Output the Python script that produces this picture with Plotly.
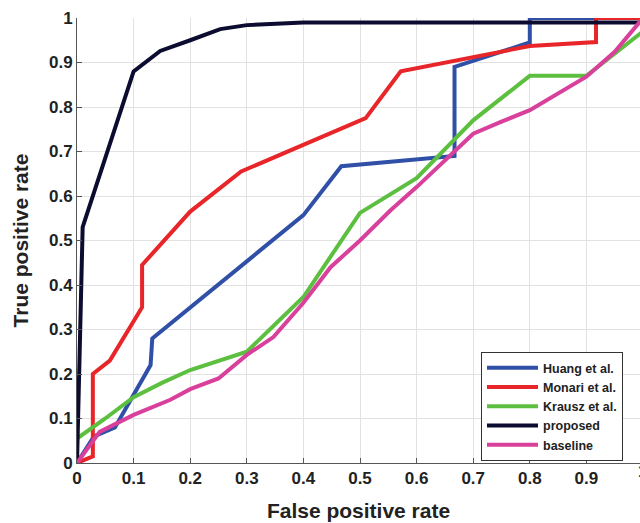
import plotly.graph_objects as go

names = ["Huang et al.", "Monari et al.", "Krausz et al.", "proposed", "baseline"]
colors = ["#3050a8", "#e8262a", "#5cbf3f", "#0c0c30", "#d8409c"]

huang_x = [0, 0.03, 0.067, 0.13, 0.133, 0.40, 0.467, 0.667, 0.667, 0.80, 0.80, 1.0]
huang_y = [0, 0.06, 0.08, 0.22, 0.28, 0.557, 0.667, 0.69, 0.89, 0.945, 1.0, 1.0]

monari_x = [0, 0.028, 0.028, 0.058, 0.115, 0.115, 0.2, 0.29, 0.51, 0.572, 0.80, 0.917, 0.917, 1.0]
monari_y = [0, 0.015, 0.2, 0.23, 0.35, 0.445, 0.565, 0.655, 0.775, 0.88, 0.937, 0.946, 1.0, 1.0]

krausz_x = [0, 0.05, 0.1, 0.15, 0.2, 0.3, 0.4, 0.5, 0.6, 0.7, 0.8, 0.9, 1.0]
krausz_y = [0.055, 0.1, 0.148, 0.18, 0.209, 0.25, 0.373, 0.562, 0.64, 0.77, 0.87, 0.87, 0.97]

proposed_x = [0, 0.01, 0.1, 0.147, 0.2, 0.253, 0.3, 0.4, 0.5, 1.0]
proposed_y = [0, 0.53, 0.88, 0.926, 0.95, 0.975, 0.984, 0.99, 0.99, 0.99]

baseline_x = [0, 0.04, 0.1, 0.165, 0.2, 0.25, 0.3, 0.347, 0.4, 0.448, 0.5, 0.554, 0.6, 0.7, 0.75, 0.8, 0.9, 0.95, 1.0]
baseline_y = [0, 0.07, 0.108, 0.142, 0.166, 0.19, 0.243, 0.283, 0.36, 0.44, 0.5, 0.568, 0.62, 0.74, 0.767, 0.793, 0.868, 0.924, 1.0]

xticks = [0, 0.1, 0.2, 0.3, 0.4, 0.5, 0.6, 0.7, 0.8, 0.9]
xticklabels = ["0", "0.1", "0.2", "0.3", "0.4", "0.5", "0.6", "0.7", "0.8", "0.9"]
yticks = [0, 0.1, 0.2, 0.3, 0.4, 0.5, 0.6, 0.7, 0.8, 0.9, 1.0]
yticklabels = ["0", "0.1", "0.2", "0.3", "0.4", "0.5", "0.6", "0.7", "0.8", "0.9", "1"]

series = [(huang_x, huang_y), (monari_x, monari_y), (krausz_x, krausz_y),
          (proposed_x, proposed_y), (baseline_x, baseline_y)]

fig = go.Figure()
for (xs, ys), n, c in zip(series, names, colors):
    fig.add_trace(go.Scatter(x=xs, y=ys, mode="lines", name=n,
                             line=dict(color=c, width=4)))

W, H = 640, 523
L, R, T, B = 77, 0, 18, 60
pw = W - L - R
x_one_px = 643  # pixel where x=1 lies
xmax = pw / (x_one_px - L)

font = "Liberation Sans, Arial, sans-serif"
tickfont = dict(family=font, size=17, weight="bold", color="#222222")
titlefont = dict(family=font, size=21, weight="bold", color="#222222")
fig.update_layout(
    width=W, height=H,
    margin=dict(l=L, r=R, t=T, b=B, pad=0),
    paper_bgcolor="white", plot_bgcolor="white",
    font=dict(family=font, color="#222222"),
    showlegend=True,
    legend=dict(x=(481 - L) / pw, y=(463 - 352) / 445, xanchor="left", yanchor="top",
                bgcolor="white", bordercolor="#333333", borderwidth=1,
                font=dict(family=font, size=12.5, weight="bold", color="#222222"),
                tracegroupgap=0, itemwidth=51),
    xaxis=dict(range=[0, xmax], tickmode="array", tickvals=xticks, ticktext=xticklabels,
               showgrid=True, gridcolor="#e2e2e2", gridwidth=1, zeroline=False,
               showline=True, linecolor="#555555", linewidth=1,
               ticks="inside", ticklen=5, tickcolor="#555555",
               tickfont=tickfont,
               title=dict(text="False positive rate", standoff=15, font=titlefont)),
    yaxis=dict(range=[0, 1], tickmode="array", tickvals=yticks, ticktext=yticklabels,
               showgrid=True, gridcolor="#e2e2e2", gridwidth=1, zeroline=False,
               showline=True, linecolor="#555555", linewidth=1,
               ticks="inside", ticklen=5, tickcolor="#555555",
               tickfont=tickfont,
               title=dict(text="True positive rate", standoff=14, font=titlefont)),
)
fig.add_annotation(x=(x_one_px - L) / pw, y=0, xref="paper", yref="paper",
                   yshift=-20, text="1", showarrow=False, xanchor="center",
                   font=tickfont)
fig.write_html("out.html")
